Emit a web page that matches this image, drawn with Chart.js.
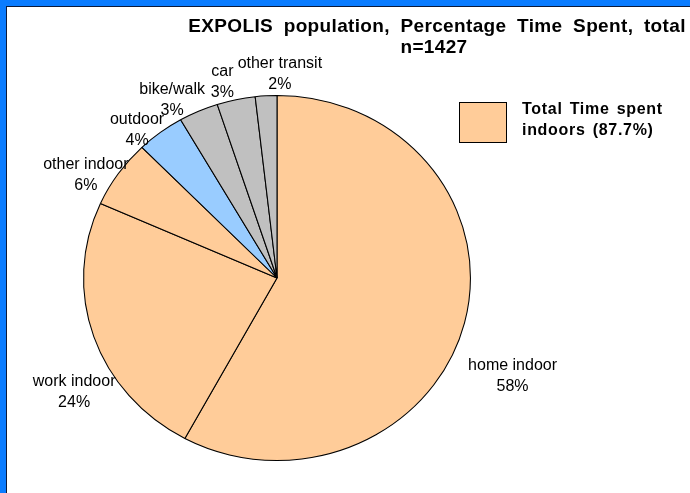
<!DOCTYPE html>
<html>
<head>
<meta charset="utf-8">
<script src="https://cdn.jsdelivr.net/npm/chart.js@4/dist/chart.umd.min.js"></script>
<style>
  html, body { margin: 0; padding: 0; }
  body { width: 690px; height: 493px; background: #0a7cff; position: relative; overflow: hidden; }
  #sheet { position: absolute; left: 6px; top: 6px; right: 0; bottom: 0; background: #fff;
           border-left: 1px solid #0b1a3a; border-top: 1px solid #0b1a3a; }
  #wrap { position: absolute; left: 0; top: 0; width: 690px; height: 493px; }
</style>
</head>
<body>
<div id="sheet"></div>
<div id="wrap"><canvas id="pie" width="690" height="493"></canvas></div>
<script>
// data
var categories = ['home indoor', 'work indoor', 'other indoor', 'outdoor', 'bike/walk', 'car', 'other transit'];
var shares = [57.9, 23.8, 6.0, 4.0, 3.3, 3.2, 1.8];
var titleLines = ['EXPOLIS population, Percentage Time Spent, total', 'n=1427'];
var legendLines = ['Total Time spent', 'indoors (87.7%)'];

var peach = '#ffcc99', sky = '#99ccff', grey = '#c0c0c0';
var sliceColors = [peach, peach, peach, sky, grey, grey, grey];
// label placement tweaks: [angle shift in degrees, distance in radii]
var labelNudge = [[9.5, 1.33], [-12, 1.22], [-5, 1.14], [-4.5, 1.09], [-5, 1.12], [-2.5, 1.11], [4, 1.12]];
var stretchX = 1.06; // the original pie is a little wider than tall

var sansFont = 'Arial, "Liberation Sans", sans-serif';

var stretch = {
    id: 'stretch',
    beforeDatasetsDraw: function(chart) {
        var a = chart.getDatasetMeta(0).data[0];
        var ctx = chart.ctx;
        ctx.save();
        ctx.translate(a.x, a.y);
        ctx.scale(stretchX, 1);
        ctx.translate(-a.x, -a.y);
    },
    afterDatasetsDraw: function(chart) {
        chart.ctx.restore();
    }
};

var decor = {
    id: 'decor',
    afterDraw: function(chart) {
        var ctx = chart.ctx;
        var meta = chart.getDatasetMeta(0);
        ctx.save();
        ctx.fillStyle = '#000';
        ctx.textBaseline = 'middle';
        ctx.textAlign = 'center';

        // slice labels
        ctx.font = '16px ' + sansFont;
        meta.data.forEach(function(arc, i) {
            var p = arc.getProps(['x', 'y', 'startAngle', 'endAngle', 'outerRadius'], true);
            var mid = (p.startAngle + p.endAngle) / 2 + labelNudge[i][0] * Math.PI / 180;
            var d = p.outerRadius * labelNudge[i][1];
            var lx = p.x + Math.cos(mid) * d * stretchX;
            var ly = p.y + Math.sin(mid) * d;
            ctx.fillText(categories[i], lx, ly - 10);
            ctx.fillText(Math.round(shares[i]) + '%', lx, ly + 11);
        });

        // title
        ctx.font = 'bold 19px ' + sansFont;
        ctx.wordSpacing = '5px';
        ctx.letterSpacing = '0.35px';
        ctx.fillText(titleLines[0], 437, 27);
        ctx.fillText(titleLines[1], 434, 48);

        // legend
        ctx.fillStyle = peach;
        ctx.fillRect(459, 102, 47, 40);
        ctx.strokeStyle = '#000';
        ctx.lineWidth = 1;
        ctx.strokeRect(459.5, 102.5, 47, 40);
        ctx.fillStyle = '#000';
        ctx.textAlign = 'left';
        ctx.font = 'bold 16px ' + sansFont;
        ctx.wordSpacing = '2px';
        ctx.letterSpacing = '0.7px';
        ctx.fillText(legendLines[0], 522, 110);
        ctx.fillText(legendLines[1], 522, 131);
        ctx.restore();
    }
};

var chart = new Chart(document.getElementById('pie'), {
    type: 'pie',
    data: {
        labels: categories,
        datasets: [{
            data: shares,
            backgroundColor: sliceColors,
            borderColor: '#000',
            borderWidth: 1,
            borderAlign: 'center'
        }]
    },
    options: {
        responsive: false,
        animation: false,
        layout: { padding: { left: 94, right: 230, top: 95, bottom: 32 } },
        plugins: {
            legend: { display: false },
            title: { display: false },
            tooltip: { enabled: false }
        }
    },
    plugins: [stretch, decor]
});
</script>
</body>
</html>
